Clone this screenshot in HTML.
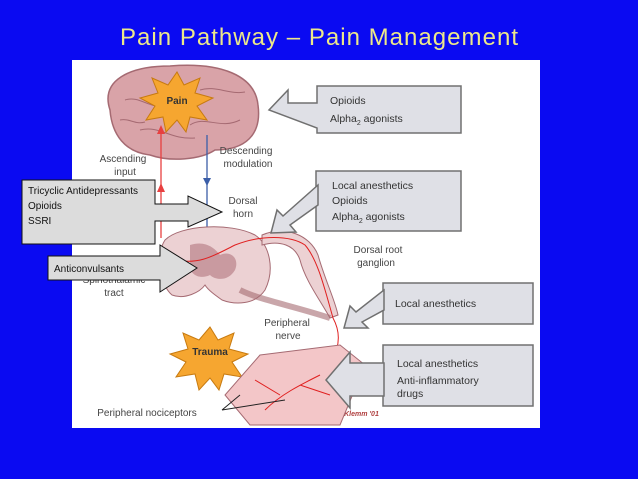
<!DOCTYPE html>
<html><head><meta charset="utf-8"><style>
html,body{margin:0;padding:0;background:#0a0af2;width:638px;height:479px;overflow:hidden}
svg{display:block}
text{font-family:"Liberation Sans",sans-serif}
</style></head><body>
<svg width="638" height="479" viewBox="0 0 638 479" xmlns="http://www.w3.org/2000/svg">
<rect width="638" height="479" fill="#0a0af2"/>
<text x="319" y="45" text-anchor="middle" font-size="24" fill="#ece88a" textLength="398">Pain Pathway – Pain Management</text>
<rect x="72" y="60" width="468" height="368" fill="#fff"/>
<!-- brain -->
<path d="M110,110 C100,80 130,66 170,66 C220,62 255,75 258,105 C262,135 245,150 215,150 C200,160 170,162 150,155 C125,152 112,135 110,110 Z" fill="#d9a3a8" stroke="#a56a72" stroke-width="1.5"/>
<path d="M125,100 C140,95 150,110 165,105 M190,125 C205,115 220,130 240,120 M140,130 C160,125 170,140 195,138 M200,90 C215,85 230,95 245,92 M120,120 C130,118 135,125 145,122" stroke="#a56a72" fill="none"/>
<polygon points="177,72 184,85 200,78 195,93 213,98 197,106 207,120 190,117 186,132 177,120 166,132 163,117 146,120 155,106 140,98 158,93 152,78 168,85" fill="#f6a630" stroke="#c77a10"/>
<text x="177" y="104" text-anchor="middle" font-size="10" font-weight="bold" fill="#333">Pain</text>
<!-- ascending/descending arrows -->
<line x1="161" y1="238" x2="161" y2="130" stroke="#e84040" stroke-width="1.3"/>
<polygon points="157,134 161,125 165,134" fill="#e84040"/>
<polygon points="157,192 161,183 165,192" fill="#e84040"/>
<line x1="207" y1="135" x2="207" y2="235" stroke="#3b5ea8" stroke-width="1.3"/>
<polygon points="203,178 207,186 211,178" fill="#3b5ea8"/>
<polygon points="203,228 207,236 211,228" fill="#3b5ea8"/>
<g font-size="10" fill="#444" text-anchor="middle">
<text x="123" y="162">Ascending</text><text x="125" y="175">input</text>
<text x="246" y="154">Descending</text><text x="248" y="167">modulation</text>
<text x="243" y="204">Dorsal</text><text x="243" y="217">horn</text>
<text x="378" y="253">Dorsal root</text><text x="376" y="266">ganglion</text>
<text x="114" y="283">Spinothalamic</text><text x="114" y="296">tract</text>
<text x="287" y="326">Peripheral</text><text x="288" y="339">nerve</text>
<text x="147" y="416">Peripheral nociceptors</text>
</g>
<text x="330" y="416" font-size="7" font-style="italic" font-weight="bold" fill="#b04040">© D.Klemm '01</text>
<!-- spinal cord -->
<path d="M165,240 C180,225 230,222 255,235 C270,245 275,270 265,290 C255,305 235,305 222,300 C215,295 208,290 205,285 C200,292 185,300 172,295 C160,285 155,255 165,240 Z" fill="#ecd1d3" stroke="#a56a72"/>
<path d="M190,245 C205,240 215,248 220,255 C230,250 240,258 235,270 C228,282 215,280 210,275 C200,280 188,275 190,262 Z" fill="#c99aa0"/>
<path d="M262,235 C285,225 310,235 318,255 C325,280 335,300 338,315 L330,318 C320,300 305,280 300,260 C295,245 280,240 262,245 Z" fill="#ecd1d3" stroke="#a56a72"/>
<path d="M240,290 C260,300 290,305 330,318" stroke="#a56a72" stroke-width="6" fill="none" opacity="0.6"/>
<path d="M175,260 C200,265 215,255 235,245 C260,235 290,235 305,245 C318,260 325,290 333,318 C345,340 335,360 320,375" stroke="#e02020" fill="none" stroke-width="1"/>
<!-- trauma starburst -->
<polygon points="210,327 218,340 234,333 229,349 248,354 232,362 242,377 224,374 219,390 210,378 199,390 195,374 176,377 186,362 170,354 188,349 183,333 199,340" fill="#f6a630" stroke="#c77a10"/>
<text x="210" y="355" text-anchor="middle" font-size="10" font-weight="bold" fill="#333">Trauma</text>
<!-- skin block -->
<path d="M260,355 L340,345 L365,365 L340,425 L250,425 L225,395 Z" fill="#f3c6c8" stroke="#a56a72"/>
<path d="M320,375 C300,385 280,395 265,410 M300,385 L330,395 M280,395 L255,380" stroke="#e02020" fill="none"/>
<path d="M222,410 L240,395 M222,410 L285,400" stroke="#222"/>
<!-- right boxes -->
<g fill="#dfe0e6" stroke="#707070" stroke-width="1.5">
<path d="M317,86 H461 V133 H317 V128 L269,110 L288,90 V103 H317 Z"/>
<path d="M316,171 H461 V231 H316 Z"/>
<path d="M383,283 H533 V324 H383 Z"/>
<path d="M383,345 H533 V406 H383 Z"/>
<polygon points="318,185 318,205 290,225 296,232 271,233 277,210 283,216"/>
<polygon points="384,290 384,310 362,322 368,328 344,328 350,306 356,312"/>
<polygon points="384,363 350,363 350,352 326,380 350,408 350,396 384,396"/>
</g>
<g font-size="10.5" fill="#333">
<text x="330" y="104">Opioids</text>
<text x="330" y="122">Alpha<tspan font-size="7" dy="3">2</tspan><tspan dy="-3"> agonists</tspan></text>
<text x="332" y="189">Local anesthetics</text>
<text x="332" y="204">Opioids</text>
<text x="332" y="220">Alpha<tspan font-size="7" dy="3">2</tspan><tspan dy="-3"> agonists</tspan></text>
<text x="395" y="307">Local anesthetics</text>
<text x="397" y="367">Local anesthetics</text>
<text x="397" y="384">Anti-inflammatory</text>
<text x="397" y="397">drugs</text>
</g>
<!-- left overlay arrows -->
<g fill="#dcdcdc" stroke="#111" stroke-width="1">
<path d="M22,180 H155 V204 H188 V196 L222,212 L188,227 V221 H155 V244 H22 Z"/>
<path d="M48,256 H160 V245 L197,268 L160,292 V280 H48 Z"/>
</g>
<g font-size="10" fill="#111" font-family="Liberation Sans Narrow,Liberation Sans,sans-serif">
<text x="28" y="194" textLength="110">Tricyclic Antidepressants</text>
<text x="28" y="209">Opioids</text>
<text x="28" y="224">SSRI</text>
<text x="54" y="272" textLength="70">Anticonvulsants</text>
</g>
</svg>
</body></html>
